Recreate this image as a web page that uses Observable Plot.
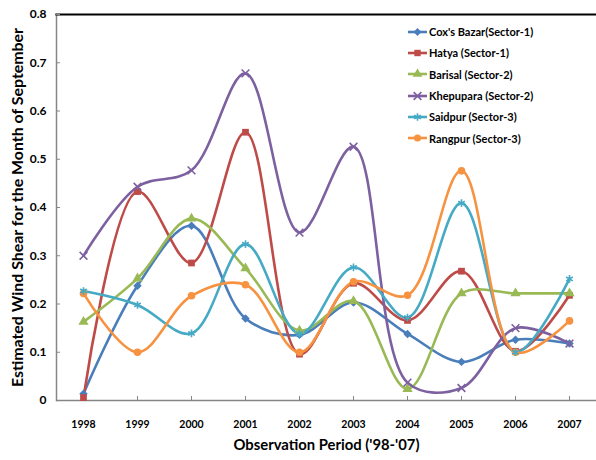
<!DOCTYPE html>
<html><head><meta charset="utf-8">
<script src="https://cdn.jsdelivr.net/npm/d3@7"></script>
<script src="https://cdn.jsdelivr.net/npm/@observablehq/plot@0.6"></script>
<style>
body{margin:0;background:#fff;}
#wrap{position:relative;width:596px;height:460px;font-family:Lato,sans-serif;}
#legend{position:absolute;left:406px;top:21px;}
.item{display:flex;align-items:center;height:21.3px;font-weight:700;font-size:11px;color:#000;white-space:nowrap;}
.item svg{margin-right:1px;}
</style></head><body><div id="wrap"></div>
<script>
const years = [1998,1999,2000,2001,2002,2003,2004,2005,2006,2007];
const coxsBazar = [0.014,0.238,0.362,0.170,0.136,0.203,0.138,0.080,0.126,0.118];
const hatya     = [0.006,0.433,0.285,0.556,0.096,0.243,0.166,0.268,0.102,0.218];
const barisal   = [0.163,0.253,0.377,0.274,0.145,0.206,0.024,0.222,0.222,0.222];
const khepupara = [0.300,0.443,0.477,0.678,0.348,0.526,0.037,0.026,0.150,0.118];
const saidpur   = [0.227,0.198,0.139,0.324,0.138,0.276,0.172,0.409,0.100,0.252];
const rangpur   = [0.222,0.100,0.217,0.240,0.100,0.246,0.218,0.476,0.100,0.165];
const seriesNames = ["Cox's Bazar(Sector-1)","Hatya (Sector-1)","Barisal (Sector-2)","Khepupara (Sector-2)","Saidpur (Sector-3)","Rangpur (Sector-3)"];
const seriesValues = [coxsBazar,hatya,barisal,khepupara,saidpur,rangpur];
const yTicks = [0,0.1,0.2,0.3,0.4,0.5,0.6,0.7,0.8];
const xTitle = "Observation Period ('98-'07)";
const yTitle = "Estimated Wind Shear for the Month of September";

const colors = ["#4A7EBB","#BE4B48","#98B954","#7D60A0","#46AAC5","#F69240"];
const symbols = ["diamond2","square","triangle","times","asterisk","circle"];
const filled = [true,true,true,false,false,true];

const rows = [];
seriesNames.forEach((s,i)=>years.forEach((y,j)=>rows.push({series:s, idx:i, year:y, value:seriesValues[i][j]})));

const chart = Plot.plot({
  width:596, height:460,
  marginLeft:56, marginRight:0, marginTop:14, marginBottom:60,
  style:{fontFamily:"Lato, sans-serif", fontWeight:700, fontSize:"11px", color:"#000", background:"#fff", overflow:"visible"},
  x:{type:"point", domain:years, padding:0.5},
  y:{domain:[0,0.8]},
  color:{domain:seriesNames, range:colors},
  symbol:{domain:seriesNames, range:symbols},
  marks:[
    Plot.frame({anchor:"left", stroke:"#868686", strokeWidth:1.5}),
    Plot.frame({anchor:"top", stroke:"#000", strokeWidth:2.2}),
    Plot.axisY({ticks:yTicks, tickSize:-4, tickPadding:14, tickFormat:d=>d===0?"0":d.toFixed(1), fontSize:12, stroke:"#868686", color:"#868686", label:null}),
    Plot.axisX({ticks:years, tickSize:-4, tickPadding:24, tickFormat:d=>String(d), fontSize:10.5, stroke:"#868686", label:null}),
    Plot.ruleY([0], {stroke:"#868686", strokeWidth:1.5}),
    Plot.line(rows, {x:"year", y:"value", z:"series", stroke:"series", strokeWidth:2.6, curve:"catmull-rom"}),
    Plot.dot(rows.filter(d=>filled[d.idx]), {x:"year", y:"value", symbol:"series", fill:"series", r:3.8}),
    Plot.dot(rows.filter(d=>!filled[d.idx]), {x:"year", y:"value", symbol:"series", stroke:"series", strokeWidth:1.6, r:3.6}),
    Plot.text([xTitle], {frameAnchor:"bottom", textAnchor:"middle", dy:49, fontSize:14.5, fill:"#000", className:"xtitle"}),
    Plot.text([yTitle], {frameAnchor:"left", textAnchor:"middle", dx:-38, rotate:-90, fontSize:14.5, fill:"#000", className:"ytitle"})
  ]
});
d3.select(chart).selectAll("[aria-label='y-axis tick label'], [aria-label='x-axis tick label']").attr("fill","#000");
d3.select(chart).selectAll(".ytitle text").attr("textLength",359).attr("lengthAdjust","spacingAndGlyphs");
d3.select(chart).selectAll(".xtitle text").attr("textLength",186).attr("lengthAdjust","spacingAndGlyphs");
document.getElementById("wrap").appendChild(chart);

// legend
const legend = document.createElement("div");
legend.id = "legend";
const symMap = {diamond2:d3.symbolDiamond2, square:d3.symbolSquare, triangle:d3.symbolTriangle, times:d3.symbolTimes, asterisk:d3.symbolAsterisk, circle:d3.symbolCircle};
seriesNames.forEach((s,i)=>{
  const item = document.createElement("div");
  item.className = "item";
  const sv = d3.create("svg").attr("width",22).attr("height",12);
  sv.append("line").attr("x1",2).attr("x2",21).attr("y1",6).attr("y2",6).attr("stroke",colors[i]).attr("stroke-width",2.6);
  const p = sv.append("path").attr("transform","translate(11.5,6)").attr("d", d3.symbol(symMap[symbols[i]], Math.PI*3.6*3.6)());
  if (filled[i]) p.attr("fill",colors[i]); else p.attr("fill","none").attr("stroke",colors[i]).attr("stroke-width",1.6);
  item.appendChild(sv.node());
  const t = document.createElement("span"); t.textContent = s;
  item.appendChild(t);
  legend.appendChild(item);
});
document.getElementById("wrap").appendChild(legend);
</script></body></html>
